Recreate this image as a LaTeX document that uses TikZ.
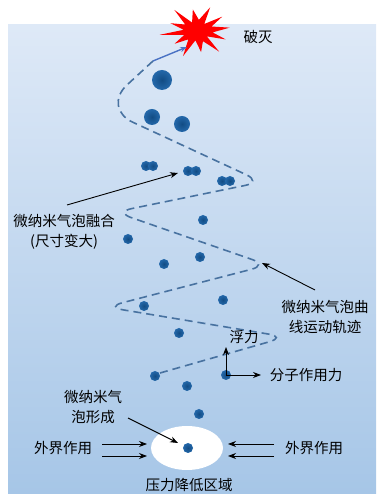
\documentclass[tikz,border=0pt]{standalone}
\usepackage{fontspec}
\setmainfont{Noto Sans CJK SC}
\usepackage{tikz}
\usetikzlibrary{arrows.meta, positioning, shapes.geometric}

\definecolor{waterTop}{RGB}{222,233,247}
\definecolor{waterBot}{RGB}{166,198,231}
\definecolor{bubbleIn}{RGB}{18,76,132}
\definecolor{bubbleOut}{RGB}{36,104,170}
\definecolor{trajBlue}{RGB}{72,114,160}
\definecolor{riseBlue}{RGB}{74,114,196}

\begin{document}
\begin{tikzpicture}[
  x=1pt, y=1pt,
  font=\fontsize{14.5}{20}\selectfont,
  txt/.style={align=center, inner sep=0pt},
  bubble/.style={circle, inner sep=0pt, shading=radial,
    inner color=bubbleIn, outer color=bubbleOut},
  traj/.style={trajBlue, line width=1.6pt, dash pattern=on 8pt off 5pt},
  arrow/.style={-{Stealth[length=8pt, width=6pt]}, line width=0.9pt}
]
\useasboundingbox (0,0) rectangle (376,494);

% water column
\shade[top color=waterTop, bottom color=waterBot] (8,0) rectangle (376,469);

% ================= burst at the surface =================
\fill[red] plot[variable=\k, samples at={0,1,...,23}]
  ({197 + 33*((mod(\k,2)==0) ? 1 : 0.42)*(1+0.14*sin(\k*97))*cos(\k*15+8)},
   {463 + 24*((mod(\k,2)==0) ? 1 : 0.42)*(1+0.14*sin(\k*97))*sin(\k*15+8)}) -- cycle;
\node[txt] (burst_txt) at (258,457) {破灭};

% ================= zigzag trajectory =================
\coordinate (tr_top) at (153,433);
\coordinate (tr_l1)  at (102,386);
\coordinate (tr_r1)  at (262,312);
\coordinate (tr_l2)  at (115,282);
\coordinate (tr_r2)  at (268,229);
\coordinate (tr_l3)  at (106,187);
\coordinate (tr_r3)  at (286,157);
\coordinate (tr_end) at (160,121);
\coordinate (rise_tip) at (187,447);

\draw[traj] (tr_top) [rounded corners=34pt] -- (tr_l1) [rounded corners=17pt]
  -- (tr_r1) -- (tr_l2) -- (tr_r2) -- (tr_l3) -- (tr_r3) -- (tr_end);
\draw[riseBlue, line width=1.4pt, -{Stealth[length=7pt, width=5pt]}]
  (tr_top) -- (rise_tip);

% ================= bubbles =================
\node[ellipse, fill=white, minimum width=72pt, minimum height=44pt,
  inner sep=0pt] (lowp) at (187,46) {};

\foreach \bx/\by/\bd [count=\i] in {
    162/414/20, 152/377/16, 182/370/16,
    146/328/10, 153/328/10, 188/323/10, 196/323/10, 222/313/10, 230/313/10,
    203/274/10, 128/255/10, 200/237/10, 164/230/10, 223/194/10, 144/188/10,
    179/161/10, 155/118/10, 187/108/10, 199/80/10}
  \node[bubble, minimum size=\bd pt] (b\i) at (\bx,\by) {};

\node[bubble, minimum size=10pt] (force_b) at (226,119) {};
\node[bubble, minimum size=10pt] (seed_b) at (188,46) {};

% ================= labels =================
\node[txt] (merge_txt) at (64,262) {微纳米气泡融合\\(尺寸变大)};
\coordinate (merge_tip) at (178,321);
\draw[arrow] (67,289) -- (merge_tip);

\node[txt] (path_txt) at (325,177) {微纳米气泡曲\\线运动轨迹};
\coordinate (path_tip) at (262,231);
\draw[arrow] (315,204) -- (path_tip);

\node[txt] (buoy_txt) at (244,157) {浮力};
\node[txt] (mol_txt) at (306,119) {分子作用力};
\coordinate (buoy_tip) at (226,147);
\coordinate (mol_tip) at (261,119);
\draw[arrow] (force_b.center) -- (buoy_tip);
\draw[arrow] (force_b.center) -- (mol_tip);

\node[txt] (form_txt) at (93,87) {微纳米气\\泡形成};
\coordinate (form_tip) at (178,51);
\draw[arrow] (128,76) -- (form_tip);

% external pressure from both sides
\node[txt] (ext_l) at (63,46) {外界作用};
\node[txt] (ext_r) at (314,46) {外界作用};
\foreach \dy in {50,38} {
  \draw[arrow] (102,\dy) -- (147,\dy);
  \draw[arrow] (274,\dy) -- (228,\dy);
}
\node[txt] (lowp_txt) at (189,9) {压力降低区域};

\end{tikzpicture}
\end{document}
